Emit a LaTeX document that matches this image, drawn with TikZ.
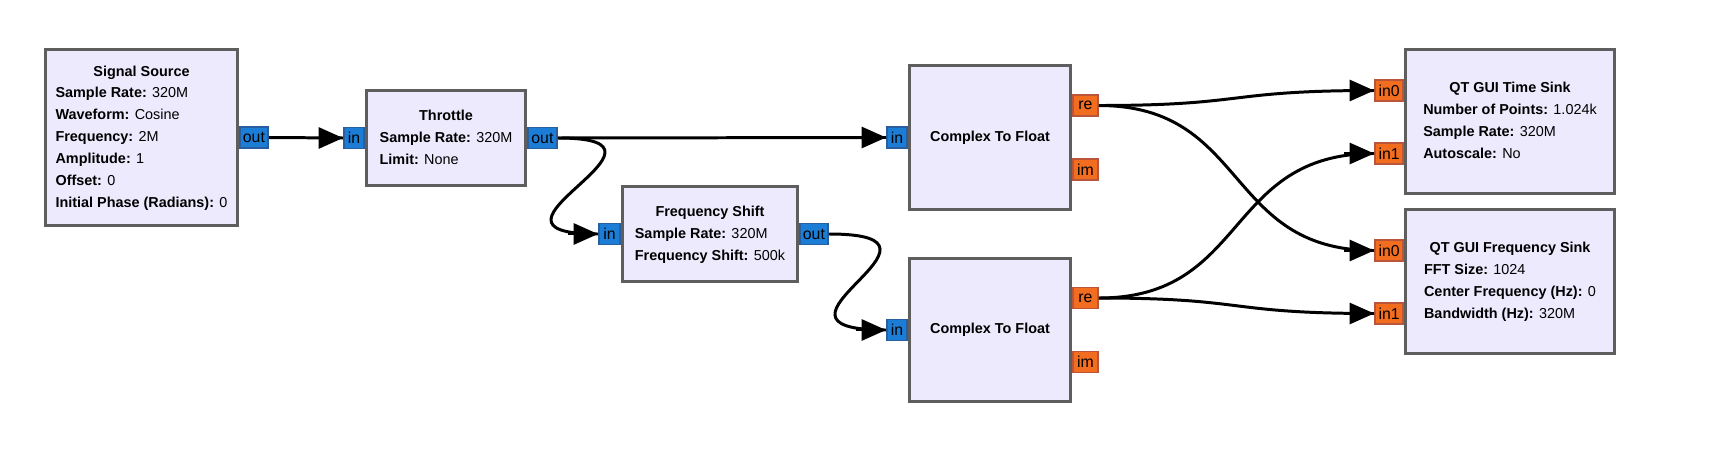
\documentclass[tikz,border=0pt]{standalone}
\usepackage{fontspec}
\setmainfont{Liberation Sans}
\usetikzlibrary{arrows.meta}

\definecolor{blockfill}{HTML}{EEEAFD}
\definecolor{blockline}{HTML}{5E5E5E}
\definecolor{cplxfill}{HTML}{1C7DD6}
\definecolor{cplxline}{HTML}{2A5E9E}
\definecolor{fltfill}{HTML}{F36D20}
\definecolor{fltline}{HTML}{B8553A}

\newcommand{\btitle}[1]{\multicolumn{1}{@{}c@{}}{\textbf{#1}}}
\newcommand{\param}[2]{\textbf{#1:} #2}

\tikzset{
  block/.style={draw=blockline, fill=blockfill, line width=1.7pt, inner sep=0pt,
    font=\fontsize{8.2pt}{12.5pt}\selectfont},
  cport/.style={draw=cplxline, fill=cplxfill, line width=1.1pt, inner sep=0pt,
    minimum height=0.42cm, text=black, font=\fontsize{9pt}{10pt}\selectfont},
  fport/.style={cport, draw=fltline, fill=fltfill},
  wire/.style={line width=1.7pt},
  tip/.style={wire, -{Triangle[length=14pt,width=12pt]}},
}

\begin{document}
\begin{tikzpicture}[x=0.02cm, y=-0.02cm]
\useasboundingbox (0,0) rectangle (1714,466);

% blocks
\node[block, minimum width=3.84cm, minimum height=3.52cm] (src) at (141.5,137.5) {%
  \begin{tabular}{@{}l@{}}
  \btitle{Signal Source}\\
  \param{Sample Rate}{320M}\\
  \param{Waveform}{Cosine}\\
  \param{Frequency}{2M}\\
  \param{Amplitude}{1}\\
  \param{Offset}{0}\\
  \param{Initial Phase (Radians)}{0}
  \end{tabular}};
\node[block, minimum width=3.18cm, minimum height=1.9cm] (thr) at (446,138) {%
  \begin{tabular}{@{}l@{}}
  \btitle{Throttle}\\
  \param{Sample Rate}{320M}\\
  \param{Limit}{None}
  \end{tabular}};
\node[block, minimum width=3.5cm, minimum height=1.9cm] (fs) at (710,234) {%
  \begin{tabular}{@{}l@{}}
  \btitle{Frequency Shift}\\
  \param{Sample Rate}{320M}\\
  \param{Frequency Shift}{500k}
  \end{tabular}};
\node[block, minimum width=3.22cm, minimum height=2.88cm] (ctf1) at (990,137.5) {\textbf{Complex To Float}};
\node[block, minimum width=3.22cm, minimum height=2.88cm] (ctf2) at (990,330) {\textbf{Complex To Float}};
\node[block, minimum width=4.18cm, minimum height=2.88cm] (ts) at (1510,121.5) {%
  \begin{tabular}{@{}l@{}}
  \btitle{QT GUI Time Sink}\\
  \param{Number of Points}{1.024k}\\
  \param{Sample Rate}{320M}\\
  \param{Autoscale}{No}
  \end{tabular}};
\node[block, minimum width=4.18cm, minimum height=2.88cm] (fsk) at (1510,281.5) {%
  \begin{tabular}{@{}l@{}}
  \btitle{QT GUI Frequency Sink}\\
  \param{FFT Size}{1024}\\
  \param{Center Frequency (Hz)}{0}\\
  \param{Bandwidth (Hz)}{320M}
  \end{tabular}};

% ports
\node[cport, minimum width=0.56cm, anchor=west] (src-out) at (src.east) {out};
\node[cport, minimum width=0.4cm, anchor=east] (thr-in) at (thr.west) {in};
\node[cport, minimum width=0.58cm, anchor=west] (thr-out) at (thr.east) {out};
\node[cport, minimum width=0.42cm, anchor=east] (fs-in) at (fs.west) {in};
\node[cport, minimum width=0.56cm, anchor=west] (fs-out) at (fs.east) {out};
\foreach \b in {ctf1,ctf2} {
  \node[cport, minimum width=0.4cm, anchor=east] (\b-in) at (\b.west) {in};
  \node[fport, minimum width=0.5cm, anchor=west] (\b-re) at ([yshift=0.64cm]\b.east) {re};
  \node[fport, minimum width=0.5cm, anchor=west] (\b-im) at ([yshift=-0.64cm]\b.east) {im};
}
\foreach \b in {ts,fsk} {
  \node[fport, minimum width=0.56cm, anchor=east] (\b-in0) at ([yshift=0.62cm]\b.west) {in0};
  \node[fport, minimum width=0.56cm, anchor=east] (\b-in1) at ([yshift=-0.64cm]\b.west) {in1};
}

% connections
\draw[wire] (src-out.east) -- (thr-in.west);
\draw[wire] (thr-out.east) -- (ctf1-in.west);
\draw[wire] (thr-out.east) .. controls +(145,0) and +(-145,0) .. (fs-in.west);
\draw[wire] (fs-out.east) .. controls +(150,0) and +(-150,0) .. (ctf2-in.west);
\draw[wire] (ctf1-re.east) .. controls +(150,0) and +(-150,0) .. (ts-in0.west);
\draw[wire] (ctf1-re.east) .. controls +(150,0) and +(-150,0) .. (fsk-in0.west);
\draw[wire] (ctf2-re.east) .. controls +(150,0) and +(-150,0) .. (ts-in1.west);
\draw[wire] (ctf2-re.east) .. controls +(150,0) and +(-150,0) .. (fsk-in1.west);

% arrow heads
\foreach \p in {thr-in,ctf1-in,fs-in,ctf2-in,ts-in0,ts-in1,fsk-in0,fsk-in1}
  \draw[tip] ([xshift=-0.6cm]\p.west) -- (\p.west);
\end{tikzpicture}
\end{document}
